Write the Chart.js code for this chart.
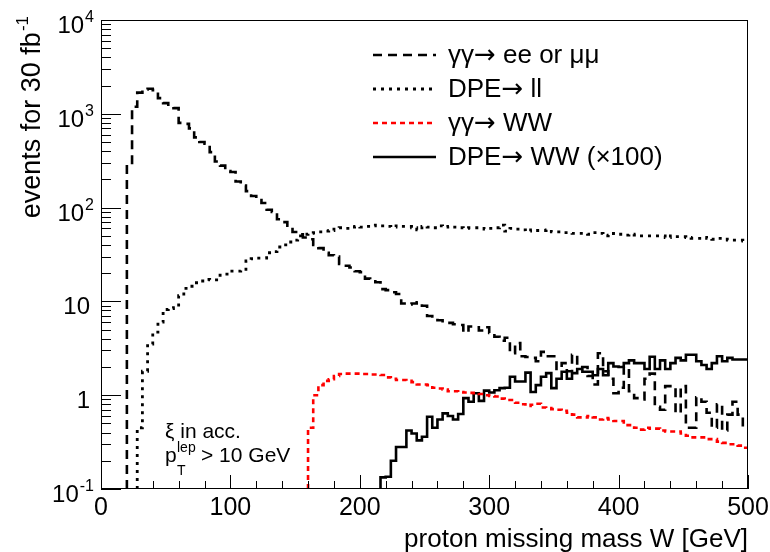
<!DOCTYPE html>
<html>
<head>
<meta charset="utf-8">
<script src="https://cdn.jsdelivr.net/npm/chart.js@4.4.1/dist/chart.umd.min.js"></script>
<style>
html,body{margin:0;padding:0;background:#fff;}
canvas{display:block;}
</style>
</head>
<body>
<canvas id="c" width="770" height="552"></canvas>
<script>
// ---------------- data ----------------
const binWidth = 4;                 // GeV per histogram bin
const xMin = 0, xMax = 500;
const yMin = 0.1, yMax = 10000;

const xMajorTicks = [0, 100, 200, 300, 400, 500];
const xTickLabels = ['0', '100', '200', '300', '400', '500'];
const xMinorStep = 20;

const yMajorTicks = [0.1, 1, 10, 100, 1000, 10000];
const yTickBase = ['10', '1', '10', '10', '10', '10'];
const yTickSup  = ['-1', '', '', '2', '3', '4'];

const seriesLabels = ['γγ→ ee or μμ', 'DPE→ ll', 'γγ→ WW', 'DPE→ WW (×100)'];

// γγ → ee or μμ  (bins start at 20 GeV)
const eeStart = 20;
const eeValues = [
  285, 1190, 1680, 1820, 1850, 1790, 1470, 1300, 1190, 1150,
  800, 780, 700, 560, 500, 480, 390, 310, 280, 245,
  240, 190, 172, 150, 133, 120, 112, 95, 90, 75,
  70, 64, 55, 52, 48, 46, 40, 37, 33, 31,
  30, 25, 24, 23, 21, 20.5, 17.5, 17, 16, 13.5,
  13.2, 12.5, 12, 9.5, 9.3, 9.5, 9.8, 9.0, 7.0, 6.9,
  6.3, 5.9, 5.9, 5.7, 5.6, 4.7, 5.4, 5.3, 4.9, 5.3,
  4.6, 4.2, 3.8, 4.1, 2.8, 3.6, 2.6, 2.55, 2.5, 2.3,
  2.9, 2.6, 2.6, 1.9, 2.2, 1.8, 2.7, 2.0, 2.0, 1.6,
  1.3, 2.8, 1.8, 1.5, 1.05, 1.2, 2.0, 1.1, 0.93, 0.9,
  1.5, 1.7, 0.75, 0.7, 1.25, 1.2, 0.65, 1.25, 0.45, 0.45,
  0.95, 0.85, 0.65, 0.45, 0.8, 0.42, 0.62, 0.85, 0.62, 0.46
];

// DPE → ll  (bins start at 28 GeV)
const llStart = 28;
const llValues = [
  0.45, 1.8, 3.5, 4.7, 6.0, 8.2, 8.4, 8.6, 11.5, 13.8,
  14.5, 15.8, 16.5, 17.2, 17, 17, 19, 19.5, 21, 21,
  22, 27, 28.5, 29, 29, 33, 34, 38, 40, 43,
  45, 50, 52, 53, 54, 55, 56, 57, 59, 61,
  60, 62, 63, 62, 63, 64, 65, 64, 63, 62,
  64, 63, 63, 61, 58, 63, 62, 61, 64, 62,
  63, 62, 61, 60, 61, 61, 60, 59, 60, 61,
  65, 56, 60, 59, 58, 56, 58, 57, 57, 58,
  55, 55, 54, 54, 53, 53, 53, 52, 54, 53,
  50, 51, 53, 52, 51, 52, 51, 50, 50, 50,
  50, 50, 48, 50, 49, 49, 48, 47, 47, 48,
  47, 46, 47, 46, 45, 45, 45, 44
];

// γγ → WW  (bins start at 160 GeV)
const wwStart = 160;
const wwValues = [
  0.45, 1.0, 1.28, 1.42, 1.48, 1.6, 1.68, 1.7, 1.7, 1.7,
  1.68, 1.68, 1.66, 1.66, 1.64, 1.55, 1.5, 1.45, 1.45, 1.42,
  1.38, 1.3, 1.3, 1.28, 1.2, 1.18, 1.15, 1.1, 1.1, 1.08,
  1.07, 1.06, 1.05, 1.03, 1.0, 0.98, 0.97, 0.92, 0.89, 0.89,
  0.83, 0.8, 0.77, 0.79, 0.81, 0.74, 0.73, 0.71, 0.7, 0.68,
  0.65, 0.62, 0.58, 0.58, 0.6, 0.58, 0.55, 0.57, 0.55, 0.53,
  0.53, 0.48, 0.48, 0.45, 0.43, 0.45, 0.44, 0.44, 0.42, 0.41,
  0.41, 0.41, 0.39, 0.37, 0.355, 0.355, 0.355, 0.34, 0.34, 0.32,
  0.31, 0.3, 0.3, 0.29, 0.275
];

// DPE → WW (x100)  (bins start at 216 GeV)
const dpeWWStart = 216;
const dpeWWValues = [
  0.133, 0.135, 0.2, 0.28, 0.28, 0.42, 0.39, 0.33, 0.36, 0.59,
  0.45, 0.55, 0.64, 0.6, 0.55, 0.63, 0.93, 0.85, 1.05, 0.87,
  1.12, 1.07, 1.13, 1.19, 1.2, 1.57, 1.4, 1.4, 1.74, 1.08,
  1.28, 1.57, 1.72, 1.19, 1.5, 1.78, 1.5, 1.72, 1.9, 1.78,
  1.78, 1.63, 1.9, 1.63, 2.2, 2.02, 2.0, 2.2, 2.35, 2.2,
  2.2, 1.9, 2.57, 1.9, 2.35, 1.9, 2.2, 2.5, 2.35, 2.7,
  2.7, 2.3, 2.1, 1.9, 2.2, 2.6, 2.3, 2.5, 2.4, 2.4, 2.4
];

// ---------------- build histogram step points ----------------
function histPoints(start, values) {
  const pts = [{x: start, y: yMin}];
  values.forEach((v, i) => pts.push({x: start + i * binWidth, y: v}));
  pts.push({x: start + values.length * binWidth, y: values[values.length - 1]});
  return pts;
}

const styles = [
  {color: '#000000', width: 2.6, dash: [9, 6]},
  {color: '#000000', width: 2.8, dash: [3, 5]},
  {color: '#ff0000', width: 2.6, dash: [5, 4]},
  {color: '#000000', width: 2.6, dash: []}
];

const seriesData = [
  histPoints(eeStart, eeValues),
  histPoints(llStart, llValues),
  histPoints(wwStart, wwValues),
  histPoints(dpeWWStart, dpeWWValues)
];

const datasets = seriesData.map((d, i) => ({
  label: seriesLabels[i],
  data: d,
  borderColor: styles[i].color,
  borderWidth: styles[i].width,
  borderDash: styles[i].dash,
  borderCapStyle: 'butt',
  borderJoinStyle: 'miter',
  pointRadius: 0,
  stepped: true,
  fill: false,
  tension: 0,
  clip: 0
}));

const FONT = '"Liberation Sans", Arial, Helvetica, sans-serif';
const ARROW_FONT = '"DejaVu Sans", sans-serif';

// draw text where "→" uses a font with a full-size arrow
function drawRich(ctx, text, x, y, size) {
  const parts = text.split('→');
  let cx = x;
  parts.forEach((p, i) => {
    if (i > 0) {
      ctx.font = size + 'px ' + ARROW_FONT;
      ctx.fillText('→', cx, y);
      cx += ctx.measureText('→').width;
    }
    ctx.font = size + 'px ' + FONT;
    ctx.fillText(p, cx, y);
    cx += ctx.measureText(p).width;
  });
}

const rootStyle = {
  id: 'rootStyle',
  afterDraw(chart) {
    const {ctx, chartArea: a, scales} = chart;
    const xs = scales.x, ys = scales.y;
    ctx.save();
    ctx.strokeStyle = '#000';
    ctx.fillStyle = '#000';
    ctx.lineWidth = 1;
    ctx.setLineDash([]);

    // frame
    ctx.strokeRect(a.left + 0.5, a.top + 0.5, a.right - a.left - 1, a.bottom - a.top - 1);

    // y ticks (major + minor), drawn inward from left axis
    ctx.beginPath();
    for (let k = 0; k < yMajorTicks.length; k++) {
      const v = yMajorTicks[k];
      const py = Math.round(ys.getPixelForValue(v)) + 0.5;
      ctx.moveTo(a.left, py); ctx.lineTo(a.left + 20, py);
      if (k < yMajorTicks.length - 1) {
        for (let m = 2; m <= 9; m++) {
          const pm = Math.round(ys.getPixelForValue(v * m)) + 0.5;
          ctx.moveTo(a.left, pm); ctx.lineTo(a.left + 10, pm);
        }
      }
    }
    // x ticks
    for (let t = xMin; t <= xMax + 1e-9; t += xMinorStep) {
      const px = Math.round(xs.getPixelForValue(t)) + 0.5;
      const major = xMajorTicks.includes(t);
      ctx.moveTo(px, a.bottom); ctx.lineTo(px, a.bottom - (major ? 14 : 8));
    }
    ctx.stroke();

    // y tick labels
    ctx.textBaseline = 'alphabetic';
    ctx.textAlign = 'left';
    for (let k = 0; k < yMajorTicks.length; k++) {
      const py = ys.getPixelForValue(yMajorTicks[k]);
      ctx.font = '24px ' + FONT;
      const bw = ctx.measureText(yTickBase[k]).width;
      ctx.font = '16px ' + FONT;
      const sw = yTickSup[k] ? ctx.measureText(yTickSup[k]).width : 0;
      const right = yTickSup[k] ? 93 : 90;
      const x0 = right - bw - sw;
      const base = py + 13;
      ctx.font = '24px ' + FONT;
      ctx.fillText(yTickBase[k], x0, base);
      if (yTickSup[k]) {
        ctx.font = '16px ' + FONT;
        ctx.fillText(yTickSup[k], x0 + bw + 1, base - 11);
      }
    }

    // x tick labels
    ctx.font = '25px ' + FONT;
    ctx.textAlign = 'center';
    for (let k = 0; k < xMajorTicks.length; k++) {
      const px = xs.getPixelForValue(xMajorTicks[k]);
      ctx.fillText(xTickLabels[k], px, 515);
    }

    // x title
    ctx.font = '26px ' + FONT;
    ctx.textAlign = 'right';
    ctx.fillText('proton missing mass W [GeV]', a.right, 547);

    // y title (rotated)
    ctx.font = '27px ' + FONT;
    const mainT = 'events for 30 fb';
    const mw = ctx.measureText(mainT).width;
    ctx.font = '17px ' + FONT;
    const supT = '-1';
    const sw2 = ctx.measureText(supT).width;
    ctx.save();
    ctx.translate(40, a.top - 4 + mw + sw2 + 1);
    ctx.rotate(-Math.PI / 2);
    ctx.textAlign = 'left';
    ctx.font = '27px ' + FONT;
    ctx.fillText(mainT, 0, 0);
    ctx.font = '17px ' + FONT;
    ctx.fillText(supT, mw + 1, -12);
    ctx.restore();

    // legend
    const rowY = [55, 89, 123, 157];
    for (let i = 0; i < seriesLabels.length; i++) {
      const ly = rowY[i];
      ctx.beginPath();
      ctx.strokeStyle = styles[i].color;
      ctx.lineWidth = styles[i].width;
      ctx.setLineDash(styles[i].dash);
      ctx.lineCap = 'butt';
      ctx.moveTo(373, ly); ctx.lineTo(436, ly);
      ctx.stroke();
      ctx.setLineDash([]);
      ctx.fillStyle = '#000';
      ctx.textAlign = 'left';
      ctx.textBaseline = 'middle';
      drawRich(ctx, seriesLabels[i], 448, ly + 1, 26);
    }

    // annotation
    ctx.textBaseline = 'alphabetic';
    ctx.textAlign = 'left';
    ctx.fillStyle = '#000';
    ctx.font = '21px ' + FONT;
    ctx.fillText('ξ in acc.', 165, 438);
    ctx.fillText('p', 165, 462);
    ctx.font = '14px ' + FONT;
    ctx.fillText('lep', 177, 452);
    ctx.fillText('T', 177, 475);
    ctx.font = '21px ' + FONT;
    ctx.fillText('> 10 GeV', 201, 462);

    ctx.restore();
  }
};

new Chart(document.getElementById('c'), {
  type: 'line',
  data: {datasets},
  options: {
    responsive: false,
    animation: false,
    devicePixelRatio: 1,
    events: [],
    layout: {padding: {left: 101, top: 20, right: 22, bottom: 63}},
    plugins: {legend: {display: false}, tooltip: {enabled: false}},
    scales: {
      x: {type: 'linear', min: xMin, max: xMax, display: false},
      y: {type: 'logarithmic', min: yMin, max: yMax, display: false}
    }
  },
  plugins: [rootStyle]
});
</script>
</body>
</html>
